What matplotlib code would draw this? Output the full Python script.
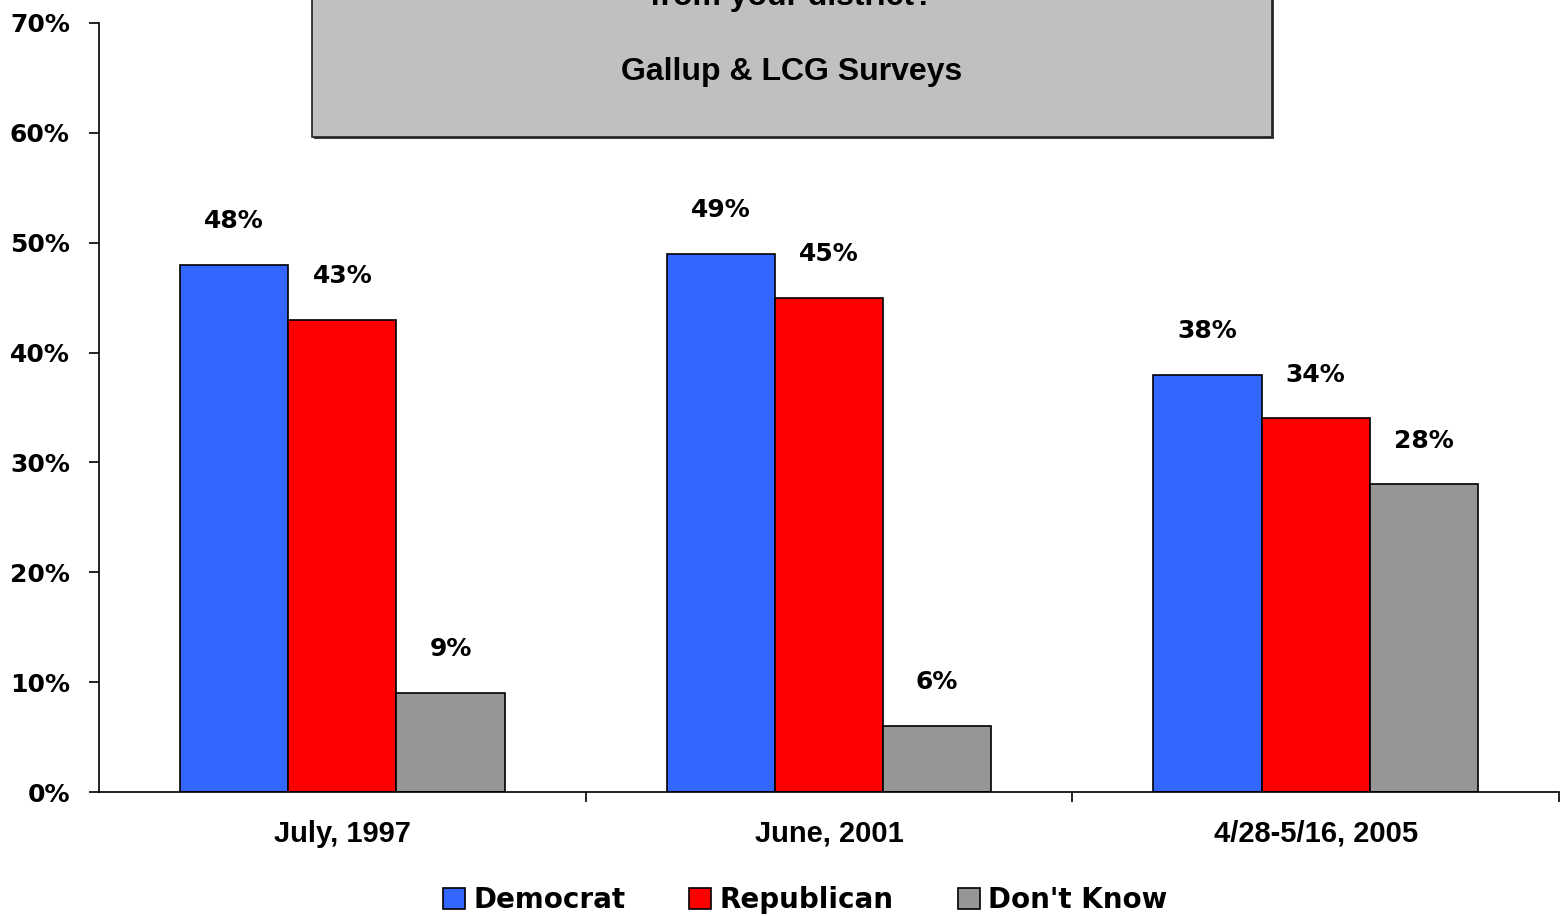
import matplotlib
matplotlib.use("Agg")
import matplotlib.pyplot as plt
from matplotlib.patches import Rectangle

categories = ["July, 1997", "June, 2001", "4/28-5/16, 2005"]
series_names = ["Democrat", "Republican", "Don't Know"]
democrat = [48, 49, 38]
republican = [43, 45, 34]
dont_know = [9, 6, 28]
yticks = [0, 10, 20, 30, 40, 50, 60, 70]
colors = ["#3366FF", "#FF0000", "#969696"]

fig = plt.figure(figsize=(15.6, 9.16), dpi=100)
ax = fig.add_axes([99/1560, 1-792/916, (1559-99)/1560, (792-23)/916])

values = [democrat, republican, dont_know]
w = 0.2222
for i, (vals, name, c) in enumerate(zip(values, series_names, colors)):
    xs = [k + (i - 1) * w for k in range(len(categories))]
    ax.bar(xs, vals, width=w, color=c, edgecolor="black", linewidth=1.2, label=name, zorder=2)
    for x, v in zip(xs, vals):
        ax.annotate(f"{v}%", (x, v), xytext=(0, 31.5), textcoords="offset points",
                    ha="center", va="center", fontsize=18, fontweight="bold",
                    family="DejaVu Sans")

ax.set_xlim(-0.5, 2.5)
ax.set_ylim(0, 70)
ax.set_yticks(yticks)
ax.set_yticklabels([f"{t}%" for t in yticks], fontsize=18, fontweight="bold", family="DejaVu Sans")
ax.set_xticks([0.5, 1.5, 2.5])
ax.set_xticklabels([])
ax.set_xticks([0, 1, 2], minor=True)
ax.set_xticklabels(categories, minor=True, fontsize=21, fontweight="bold", family="Liberation Sans")
ax.tick_params(axis="x", which="minor", length=0, pad=20)
ax.tick_params(axis="x", which="major", length=7, direction="out", width=1.2)
ax.tick_params(axis="y", length=7, direction="out", width=1.2, pad=14)
for s in ["top", "right"]:
    ax.spines[s].set_visible(False)
for s in ["left", "bottom"]:
    ax.spines[s].set_linewidth(1.2)

# title box
bx0, bx1 = 312/1560, 1272/1560
by1 = 1 - 137/916
shadow = Rectangle((bx0 + 0.0015, by1 - 0.0025), bx1 - bx0, 0.2, transform=fig.transFigure,
                   facecolor="#404040", edgecolor="none", zorder=4)
box = Rectangle((bx0, by1), bx1 - bx0, 0.2, transform=fig.transFigure,
                facecolor="#C0C0C0", edgecolor="#202020", linewidth=1.2, zorder=5)
fig.patches.extend([shadow, box])
fig.text(792/1560, 1 - 5/916, "from your district?", ha="center", va="baseline",
         fontsize=23, fontweight="bold", family="Liberation Sans", zorder=6)
fig.text(792/1560, 1 - 72/916, "Gallup & LCG Surveys", ha="center", va="center",
         fontsize=23, fontweight="bold", family="Liberation Sans", zorder=6)

leg = fig.legend(loc="center", bbox_to_anchor=(805/1560, 1 - 900/916), ncol=3, frameon=False,
                 prop={"family": "DejaVu Sans", "weight": "bold", "size": 20},
                 handlelength=0.8, handleheight=0.8, handletextpad=0.3, columnspacing=2.3)

fig.savefig("out.png", dpi=100)
